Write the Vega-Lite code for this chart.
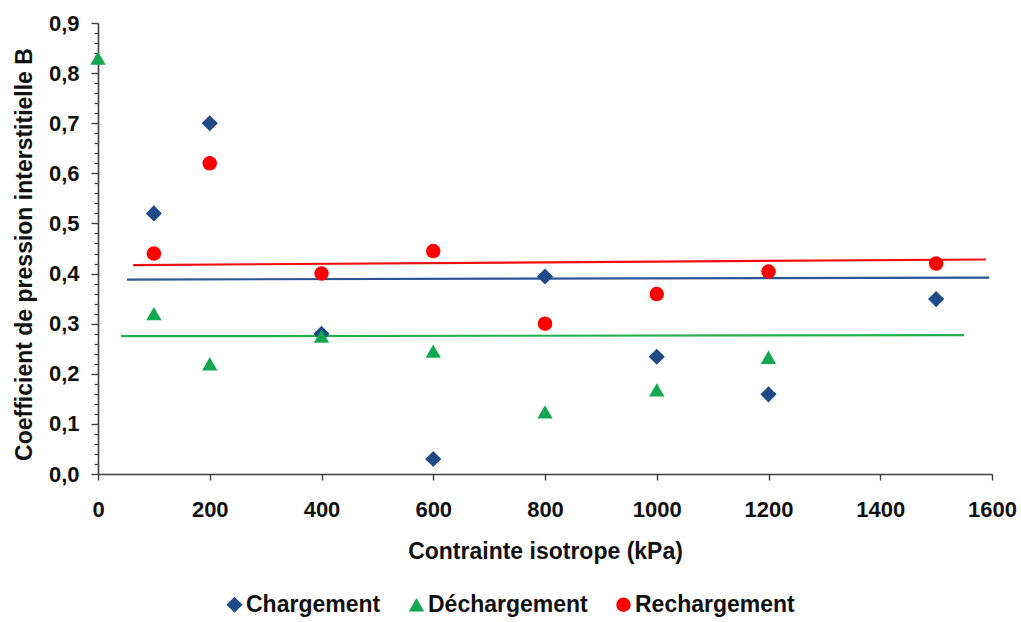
{
  "$schema": "https://vega.github.io/schema/vega-lite/v6.json",
  "width": 894,
  "height": 451,
  "autosize": "none",
  "padding": {"left": 98, "top": 23, "right": 29, "bottom": 148},
  "background": "white",
  "config": {
    "view": {"stroke": null},
    "font": "Liberation Sans",
    "axis": {"grid": false, "labelFlush": false, "domainColor": "#404040", "domainWidth": 1.6, "tickColor": "#404040", "tickWidth": 1.4, "labelFont": "Liberation Sans", "labelFontWeight": "bold", "labelColor": "#111", "titleFont": "Liberation Sans", "titleFontWeight": "bold", "titleColor": "#111"}
  },
  "datasets": {
    "pts": [
      {"p": 100, "B": 0.52, "serie": "Chargement"},
      {"p": 200, "B": 0.70, "serie": "Chargement"},
      {"p": 400, "B": 0.28, "serie": "Chargement"},
      {"p": 600, "B": 0.03, "serie": "Chargement"},
      {"p": 800, "B": 0.394, "serie": "Chargement"},
      {"p": 1000, "B": 0.234, "serie": "Chargement"},
      {"p": 1200, "B": 0.159, "serie": "Chargement"},
      {"p": 1500, "B": 0.349, "serie": "Chargement"},
      {"p": 0, "B": 0.83, "serie": "Déchargement"},
      {"p": 100, "B": 0.32, "serie": "Déchargement"},
      {"p": 200, "B": 0.22, "serie": "Déchargement"},
      {"p": 400, "B": 0.275, "serie": "Déchargement"},
      {"p": 600, "B": 0.245, "serie": "Déchargement"},
      {"p": 800, "B": 0.124, "serie": "Déchargement"},
      {"p": 1000, "B": 0.168, "serie": "Déchargement"},
      {"p": 1200, "B": 0.233, "serie": "Déchargement"},
      {"p": 100, "B": 0.44, "serie": "Rechargement"},
      {"p": 200, "B": 0.62, "serie": "Rechargement"},
      {"p": 400, "B": 0.40, "serie": "Rechargement"},
      {"p": 600, "B": 0.445, "serie": "Rechargement"},
      {"p": 800, "B": 0.30, "serie": "Rechargement"},
      {"p": 1000, "B": 0.359, "serie": "Rechargement"},
      {"p": 1200, "B": 0.404, "serie": "Rechargement"},
      {"p": 1500, "B": 0.42, "serie": "Rechargement"}
    ],
    "trend": [
      {"p": 52, "B": 0.388, "serie": "Chargement"},
      {"p": 1595, "B": 0.392, "serie": "Chargement"},
      {"p": 41, "B": 0.275, "serie": "Déchargement"},
      {"p": 1550, "B": 0.277, "serie": "Déchargement"},
      {"p": 63, "B": 0.417, "serie": "Rechargement"},
      {"p": 1589, "B": 0.428, "serie": "Rechargement"}
    ]
  },
  "layer": [
    {
      "data": {"name": "trend"},
      "transform": [{"filter": "datum.serie === 'Chargement'"}],
      "mark": {"type": "line", "color": "#2C5597", "strokeWidth": 2.2},
      "encoding": {
        "x": {"field": "p", "type": "quantitative", "scale": {"domain": [0, 1600], "nice": false},
          "axis": {"title": "Contrainte isotrope (kPa)", "values": [0,200,400,600,800,1000,1200,1400,1600], "format": "d", "labelFlush": false, "labelFontSize": 22, "titleFontSize": 23, "tickSize": 6, "labelPadding": 19, "titlePadding": 20}},
        "y": {"field": "B", "type": "quantitative", "scale": {"domain": [0, 0.9], "nice": false, "zero": false},
          "axis": {"orient": "left", "values": [0.02,0.04,0.06,0.08,0.12,0.14,0.16,0.18,0.22,0.24,0.26,0.28,0.32,0.34,0.36,0.38,0.42,0.44,0.46,0.48,0.52,0.54,0.56,0.58,0.62,0.64,0.66,0.68,0.72,0.74,0.76,0.78,0.82,0.84,0.86,0.88], "labels": false, "domain": false, "title": null, "tickSize": 4, "tickWidth": 1.2}}
      }
    },
    {
      "data": {"name": "trend"},
      "transform": [{"filter": "datum.serie === 'Déchargement'"}],
      "mark": {"type": "line", "color": "#22B14C", "strokeWidth": 2.2},
      "encoding": {
        "x": {"field": "p", "type": "quantitative"},
        "y": {"field": "B", "type": "quantitative", "axis": null}
      }
    },
    {
      "data": {"name": "trend"},
      "transform": [{"filter": "datum.serie === 'Rechargement'"}],
      "mark": {"type": "line", "color": "#F01010", "strokeWidth": 2.2},
      "encoding": {
        "x": {"field": "p", "type": "quantitative"},
        "y": {"field": "B", "type": "quantitative", "axis": null}
      }
    },
    {
      "data": {"name": "pts"},
      "mark": {"type": "point", "filled": true, "opacity": 1},
      "encoding": {
        "x": {"field": "p", "type": "quantitative"},
        "y": {"field": "B", "type": "quantitative",
          "axis": {"orient": "left", "title": "Coefficient de pression interstitielle B", "values": [0,0.1,0.2,0.3,0.4,0.5,0.6,0.7,0.8,0.9], "labelExpr": "replace(format(datum.value, '.1f'), '.', ',')", "labelFlush": false, "labelFontSize": 22, "titleFontSize": 23, "tickSize": 7, "labelPadding": 12, "titlePadding": 12, "titleY": 231}},
        "size": {"field": "serie", "type": "nominal", "legend": null,
          "scale": {"domain": ["Chargement", "Déchargement", "Rechargement"], "range": [260, 210, 200]}},
        "shape": {"field": "serie", "type": "nominal",
          "scale": {"domain": ["Chargement", "Déchargement", "Rechargement"], "range": ["diamond", "triangle-up", "circle"]}},
        "color": {"field": "serie", "type": "nominal",
          "scale": {"domain": ["Chargement", "Déchargement", "Rechargement"], "range": ["#1F4A87", "#12A84E", "#FF0000"]},
          "legend": {"title": null, "orient": "none", "legendX": 125, "legendY": 570, "direction": "horizontal", "labelFontSize": 23, "labelFont": "Liberation Sans", "labelFontWeight": "bold", "labelColor": "#111", "symbolSize": 115, "columnPadding": 24, "symbolOffset": 0, "labelOffset": 0}}
      }
    }
  ],
  "resolve": {"axis": {"y": "independent"}}
}
